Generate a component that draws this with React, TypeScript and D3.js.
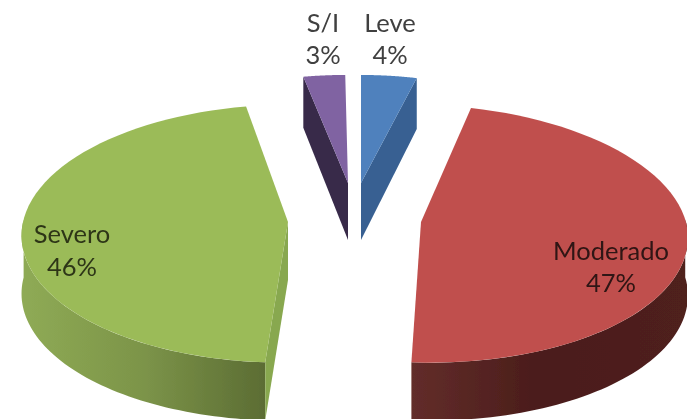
import React from "react";
import * as d3 from "d3";

const categories = ["Leve", "Moderado", "Severo", "S/I"];
const shares = [4, 47, 46, 3];
const shareLabels = ["4%", "47%", "46%", "3%"];

const W = 687, H = 419;
const topColors = ["#4f81bd", "#c0504d", "#9bbb59", "#8064a2"];
const cutColors = ["#376092", "none", "#88a84f", "#372a4a"];
// geometry of each exploded slice: apex on screen, size factor, lean, which cut face shows
const apexX = [361, 421, 288, 348];
const apexY = [183, 222, 222, 183];
const sizeK = [0.92, 1, 1, 0.92];
const lean = [0, 0.0775, -0.032, 0];
const shiftX = [0, -2, 0, -3];
const cutSide = ["end", "", "start", "start"];
const labelX = [390, 611, 72, 323];
const labelY = [[32, 64], [260, 292], [243, 276], [32, 64]];

const Rx = 265, Ry = 128, persp = 0.09, depth = 58;

const pie = d3.pie<number>().sort(null).startAngle(0).endAngle(2 * Math.PI);
const arcs = pie(shares);

function project(i: number, t: number, dz = 0): [number, number] {
  const d = 1 + persp * Math.cos(t);
  const X = (Rx * Math.sin(t)) / d;
  const Y = (-Ry * Math.cos(t)) / d;
  const s = sizeK[i];
  const sx = X * s + Y * s * lean[i] + (shiftX[i] * Math.abs(Y)) / Ry;
  return [apexX[i] + sx, apexY[i] + Y * s + dz];
}

const line = d3.line<[number, number]>();
const steps = (a: number, b: number) =>
  d3.range(0, 61).map((k) => a + ((b - a) * k) / 60);

function topPath(i: number) {
  const { startAngle: a, endAngle: b } = arcs[i];
  const pts = steps(a, b).map((t) => project(i, t));
  return line([[apexX[i], apexY[i]], ...pts]) + "Z";
}

function sidePath(i: number) {
  const { startAngle: a, endAngle: b } = arcs[i];
  const lo = Math.max(a, Math.PI / 2 - 0.02);
  const hi = Math.min(b, (3 * Math.PI) / 2 + 0.02);
  if (i === 0 || i === 3) return null;
  const ts = steps(lo, hi);
  const up = ts.map((t) => project(i, t));
  const down = ts.map((t) => project(i, t, depth)).reverse();
  return line([...up, ...down]) + "Z";
}

function cutPath(i: number) {
  if (!cutSide[i]) return null;
  const t = cutSide[i] === "end" ? arcs[i].endAngle : arcs[i].startAngle;
  const dz = i === 2 ? depth : 51;
  return (
    line([
      [apexX[i], apexY[i]],
      project(i, t),
      project(i, t, dz),
      [apexX[i], apexY[i] + (i === 2 ? depth : 57)],
    ]) + "Z"
  );
}

const font = "Lato, 'Open Sans', sans-serif";

export default function App() {
  return (
    <svg
      width={W}
      height={H}
      viewBox={`0 0 ${W} ${H}`}
      style={{ position: "absolute", left: 0, top: 0, background: "#fff" }}
    >
      <defs>
        <filter id="soft" x="-5%" y="-5%" width="110%" height="110%">
          <feGaussianBlur stdDeviation="0.6" />
        </filter>
        <linearGradient id="side1" gradientUnits="userSpaceOnUse" x1="412" x2="687" y1="0" y2="0">
          <stop offset="0" stopColor="#622d2a" />
          <stop offset="0.45" stopColor="#4b1d1b" />
          <stop offset="1" stopColor="#4f201e" />
        </linearGradient>
        <linearGradient id="side2" gradientUnits="userSpaceOnUse" x1="20" x2="267" y1="0" y2="0">
          <stop offset="0" stopColor="#8fab55" />
          <stop offset="0.5" stopColor="#7c9449" />
          <stop offset="1" stopColor="#5b6c33" />
        </linearGradient>
      </defs>
      <g filter="url(#soft)">
        {categories.map((c, i) => {
          const side = sidePath(i);
          const cut = cutPath(i);
          return (
            <g key={c}>
              {side && <path d={side} fill={`url(#side${i})`} />}
              {cut && <path d={cut} fill={cutColors[i]} />}
              <path d={topPath(i)} fill={topColors[i]} />
            </g>
          );
        })}
        {categories.map((c, i) => (
          <text
            key={c}
            x={labelX[i]}
            textAnchor="middle"
            fontFamily={font}
            fontSize={25.5}
            fill={i === 1 ? "#2e1312" : i === 2 ? "#2d3618" : "#404040"}
          >
            <tspan x={labelX[i]} y={labelY[i][0]}>{c}</tspan>
            <tspan x={labelX[i]} y={labelY[i][1]}>{shareLabels[i]}</tspan>
          </text>
        ))}
      </g>
    </svg>
  );
}
